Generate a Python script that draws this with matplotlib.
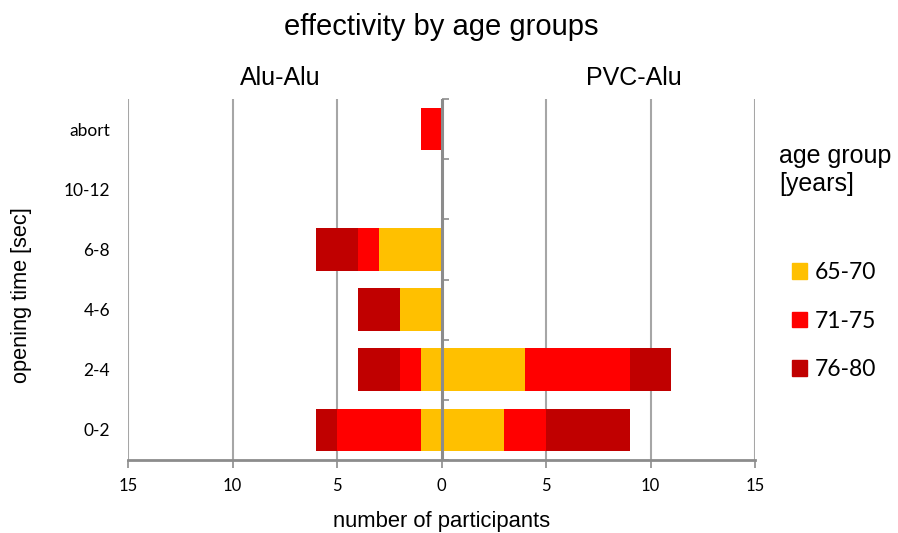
import matplotlib
matplotlib.use("Agg")
import matplotlib.pyplot as plt
import numpy as np
from matplotlib.patches import Patch

categories = ['0-2', '2-4', '4-6', '6-8', '10-12', 'abort']
age_groups = ['65-70', '71-75', '76-80']
alu_65 = [1, 1, 2, 3, 0, 0]
alu_71 = [4, 1, 0, 1, 0, 1]
alu_76 = [1, 2, 2, 2, 0, 0]
pvc_65 = [3, 4, 0, 0, 0, 0]
pvc_71 = [2, 5, 0, 0, 0, 0]
pvc_76 = [4, 2, 0, 0, 0, 0]
xticks = [-15, -10, -5, 0, 5, 10, 15]
xticklabels = ['15', '10', '5', '0', '5', '10', '15']

colors = ['#FFC000', '#FF0000', '#C00000']
axis_gray = '#8C8C8C'

plt.rcParams['font.family'] = ['Liberation Sans', 'DejaVu Sans']

fig = plt.figure(figsize=(8.98, 5.33), dpi=100)
ax = fig.add_axes([128/898, 1-460/533, (755-128)/898, (460-99)/533])

y = np.arange(len(categories))
h = 0.71
alu = [np.array(alu_65), np.array(alu_71), np.array(alu_76)]
pvc = [np.array(pvc_65), np.array(pvc_71), np.array(pvc_76)]
left_cum = np.zeros(len(categories))
right_cum = np.zeros(len(categories))
for vals_l, vals_r, c in zip(alu, pvc, colors):
    ax.barh(y, -vals_l, left=-left_cum, height=h, color=c, linewidth=0, zorder=3)
    ax.barh(y, vals_r, left=right_cum, height=h, color=c, linewidth=0, zorder=3)
    left_cum = left_cum + vals_l
    right_cum = right_cum + vals_r

ax.set_xlim(-15, 15)
ax.set_ylim(-0.5, len(categories) - 0.5)

# gridlines (except at zero)
for xv in xticks:
    if xv != 0:
        ax.axvline(xv, color='#A6A6A6', linewidth=1.5, zorder=1)
# zero axis line
ax.axvline(0, color=axis_gray, linewidth=2.2, zorder=5)

for s in ['left', 'right', 'top']:
    ax.spines[s].set_visible(False)
ax.spines['bottom'].set_color(axis_gray)
ax.spines['bottom'].set_linewidth(2)
ax.spines['bottom'].set_zorder(4)

ax.set_xticks(xticks)
ax.set_xticklabels(xticklabels, fontsize=12, family=['Lato', 'DejaVu Sans'])
ax.tick_params(axis='x', direction='out', length=6, width=1.2, color=axis_gray, pad=7)

ax.set_yticks(y)
ax.set_yticklabels(categories, fontsize=12.5, family=['Lato', 'DejaVu Sans'])
ax.tick_params(axis='y', length=0, pad=13)

# category boundary ticks on the zero axis
sec = ax.secondary_yaxis(0.5)
sec.set_yticks(np.arange(-0.5, len(categories), 1.0))
sec.set_yticklabels([])
sec.tick_params(axis='y', direction='out', length=5, width=1.2, color=axis_gray)
for sp in sec.spines.values():
    sp.set_visible(False)

fig.text(441/898, 1-27/533, 'effectivity by age groups', ha='center', va='center', fontsize=21)
fig.text(280/898, 1-78/533, 'Alu-Alu', ha='center', va='center', fontsize=18)
fig.text(634/898, 1-78/533, 'PVC-Alu', ha='center', va='center', fontsize=18)
fig.text(22/898, 1-295/533, 'opening time [sec]', ha='center', va='center', rotation=90, fontsize=15.7)
fig.text(442/898, 1-522/533, 'number of participants', ha='center', va='center', fontsize=15.8)
fig.text(779/898, 1-170/533, 'age group\n[years]', ha='left', va='center', fontsize=18, linespacing=1.2)

handles = [Patch(facecolor=c, edgecolor=c) for c in colors]
leg = fig.legend(handles, age_groups, loc='center left', bbox_to_anchor=(792/898, 1-321/533),
                 frameon=False, labelspacing=1.2, handlelength=0.65, handleheight=0.65,
                 handletextpad=0.35, borderaxespad=0, borderpad=0,
                 prop={'family': ['Lato', 'DejaVu Sans'], 'size': 16.5})

fig.savefig('out.png', dpi=100, facecolor='white')
